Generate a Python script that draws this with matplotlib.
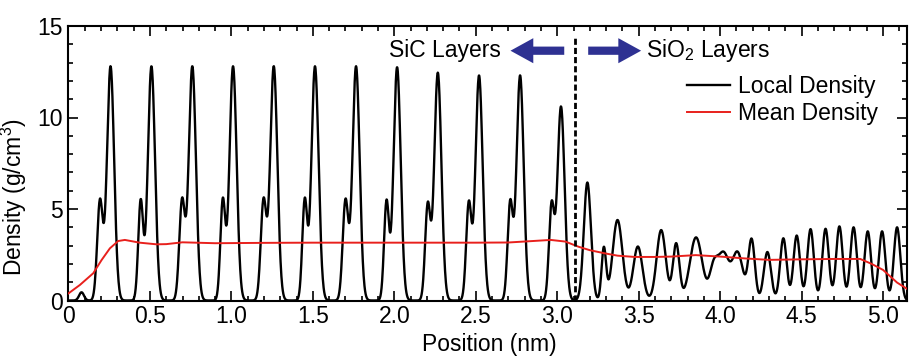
import numpy as np
import matplotlib
matplotlib.use("Agg")
import matplotlib.pyplot as plt
from matplotlib.patches import FancyArrow

plt.rcParams['font.family'] = ['Liberation Sans', 'DejaVu Sans']
plt.rcParams['mathtext.fontset'] = 'custom'
plt.rcParams['mathtext.rm'] = 'Liberation Sans'
plt.rcParams['mathtext.it'] = 'Liberation Sans'

# ---- data ----
# SiC layers: each layer = small peak followed by a big peak (position nm, density g/cm3, width nm)
sic_small_x = [0.193, 0.443, 0.697, 0.947, 1.197, 1.450, 1.700, 1.952, 2.205, 2.457, 2.711, 2.965]
sic_small_h = [5.40, 5.40, 5.40, 5.40, 5.40, 5.40, 5.40, 5.35, 5.15, 5.25, 5.25, 5.10]
sic_small_w = [0.017, 0.015, 0.017, 0.015, 0.017, 0.015, 0.017, 0.015, 0.016, 0.016, 0.016, 0.016]
sic_big_x = [0.258, 0.509, 0.760, 1.010, 1.260, 1.513, 1.765, 2.017, 2.267, 2.520, 2.772, 3.023]
sic_big_h = [12.8, 12.8, 12.8, 12.8, 12.8, 12.8, 12.8, 12.75, 12.45, 12.3, 12.3, 10.6]
sic_big_w = [0.022] * 12
# small surface bump and SiO2 region peaks
sio2_x = [0.080, 3.185, 3.286, 3.370, 3.495, 3.638, 3.730, 3.852, 3.960, 4.020, 4.107, 4.193,
          4.290, 4.388, 4.470, 4.555, 4.647, 4.732, 4.819, 4.906, 4.994, 5.086]
sio2_h = [0.45, 6.45, 2.85, 4.40, 2.95, 3.85, 3.10, 3.45, 1.70, 2.50, 2.60, 3.30,
          2.65, 3.40, 3.55, 3.90, 3.92, 4.05, 4.00, 3.78, 3.78, 4.00]
sio2_w = [0.015, 0.022, 0.014, 0.030, 0.028, 0.028, 0.020, 0.038, 0.025, 0.033, 0.033, 0.020,
          0.022, 0.020, 0.020, 0.020, 0.020, 0.020, 0.020, 0.020, 0.020, 0.020]

# Mean density curve
mean_x = [0.00, 0.07, 0.152, 0.203, 0.254, 0.305, 0.346, 0.437, 0.54, 0.60, 0.70, 0.90, 1.20,
          1.50, 2.00, 2.50, 2.70, 2.85, 2.96, 3.05, 3.13, 3.20, 3.29, 3.37, 3.475, 3.60,
          3.70, 3.85, 4.00, 4.15, 4.30, 4.50, 4.70, 4.86, 4.93, 5.00, 5.086, 5.15]
mean_y = [0.39, 0.85, 1.49, 2.21, 2.85, 3.25, 3.31, 3.16, 3.07, 3.08, 3.18, 3.13, 3.15,
          3.16, 3.16, 3.16, 3.17, 3.25, 3.31, 3.22, 2.94, 2.75, 2.58, 2.45, 2.38, 2.38,
          2.40, 2.48, 2.40, 2.30, 2.22, 2.25, 2.27, 2.27, 2.00, 1.67, 0.98, 0.62]

interface_x = 3.11
x_ticks = [0, 0.5, 1.0, 1.5, 2.0, 2.5, 3.0, 3.5, 4.0, 4.5, 5.0]
x_ticklabels = ['0', '0.5', '1.0', '1.5', '2.0', '2.5', '3.0', '3.5', '4.0', '4.5', '5.0']
y_ticks = [0, 5, 10, 15]

# ---- build the local density profile from the peak table ----
pos = np.linspace(0, 5.15, 3000)
px = np.array(sic_small_x + sic_big_x + sio2_x)
ph = np.array(sic_small_h + sic_big_h + sio2_h)
pw = np.array(sic_small_w + sic_big_w + sio2_w)
local = (ph[None, :] * np.exp(-0.5 * ((pos[:, None] - px[None, :]) / pw[None, :]) ** 2)).sum(axis=1)

fig = plt.figure(figsize=(9.12, 3.56), dpi=100)
ax = fig.add_axes([68.5 / 912, 55.5 / 356, 839 / 912, 274.5 / 356])

ax.plot(pos, local, color='black', lw=1.7, label='Local Density', zorder=3)
ax.plot(mean_x, mean_y, color='#e8201c', lw=1.4, label='Mean Density', zorder=4)
ax.plot([interface_x, interface_x], [0, 14.35], color='black', lw=2.0,
        dashes=(2.2, 1.1), zorder=5)

ax.set_xlim(0, 5.15)
ax.set_ylim(0, 15)
ax.set_xticks(x_ticks)
ax.set_xticklabels(x_ticklabels)
ax.set_yticks(y_ticks)
ax.set_xticks(np.arange(0, 5.15, 0.1), minor=True)
ax.set_yticks(np.arange(0, 15.01, 1), minor=True)
ax.tick_params(which='both', direction='in', top=True, right=True, labelsize=16.5, width=1.2)
ax.tick_params(which='major', length=7.5)
ax.tick_params(which='minor', length=3.5)
ax.tick_params(axis='x', pad=3)
ax.tick_params(axis='y', pad=4)
for s in ax.spines.values():
    s.set_linewidth(1.5)

ax.set_xlabel('Position (nm)', fontsize=16.5)
ax.xaxis.set_label_coords(0.501, -0.12)
ax.set_ylabel('Density (g/cm$^3$)', fontsize=16.5)
ax.yaxis.set_label_coords(-0.047, 0.377)

# annotations
arrow_color = '#2e3192'
ax.add_patch(FancyArrow(3.043, 13.65, -0.33, 0, width=0.45, head_width=1.37,
                        head_length=0.14, length_includes_head=True,
                        color=arrow_color, lw=0, zorder=6))
ax.add_patch(FancyArrow(3.19, 13.65, 0.325, 0, width=0.45, head_width=1.37,
                        head_length=0.14, length_includes_head=True,
                        color=arrow_color, lw=0, zorder=6))
ax.text(2.657, 13.28, 'SiC Layers', ha='right', va='baseline', fontsize=16.5)
ax.text(3.545, 13.28, 'SiO$_2$ Layers', ha='left', va='baseline', fontsize=16.5)

leg = ax.legend(loc='upper left', bbox_to_anchor=(0.737, 0.82), frameon=False,
                fontsize=16.5, handlelength=1.9, handletextpad=0.35,
                labelspacing=0.15, borderpad=0, borderaxespad=0)

fig.savefig('out.png', dpi=100)
